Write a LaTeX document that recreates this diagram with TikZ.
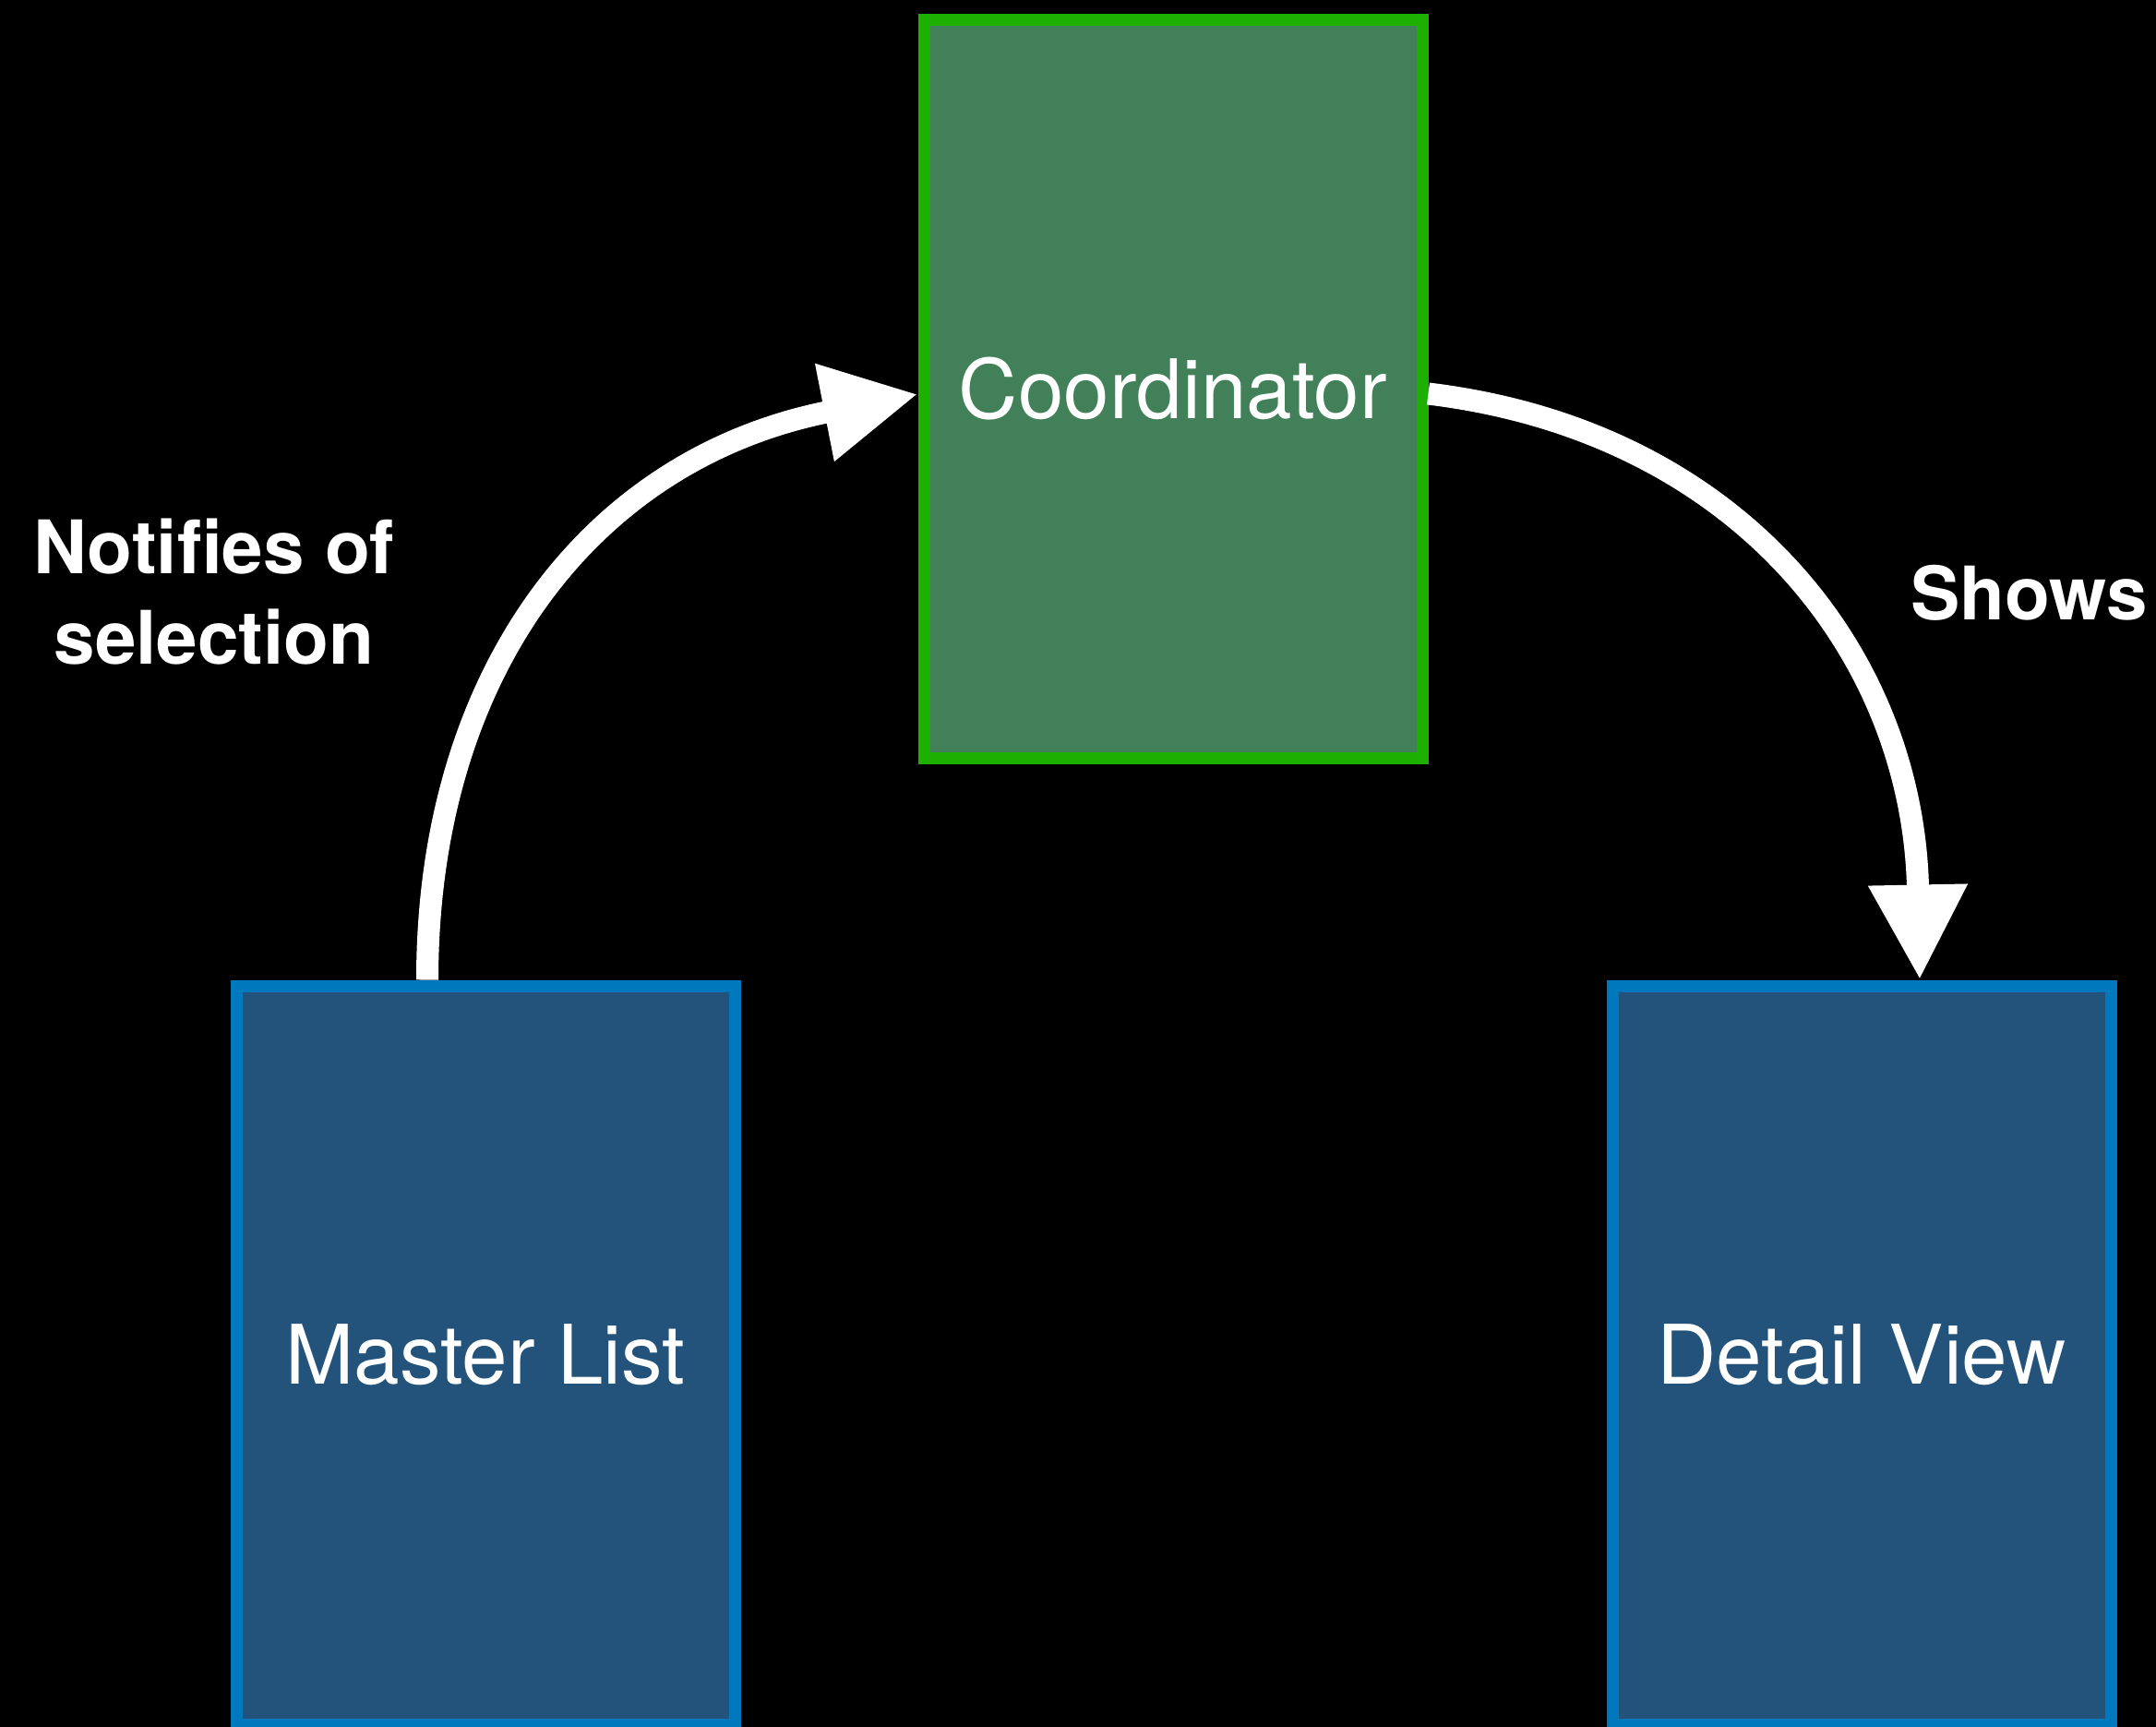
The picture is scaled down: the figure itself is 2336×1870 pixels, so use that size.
\documentclass[tikz,border=0pt]{standalone}
\usepackage{fontspec}
\setmainfont{TeX Gyre Heros}
\usetikzlibrary{arrows.meta,calc}
\definecolor{cofill}{RGB}{65,128,89}
\definecolor{coline}{RGB}{29,176,0}
\definecolor{bxfill}{RGB}{35,82,122}
\definecolor{bxline}{RGB}{0,120,190}
\tikzset{
  box/.style={draw, line width=6.5pt, minimum width=270pt, minimum height=400pt,
    inner sep=0pt, text=white, font=\fontsize{44.5}{53}\selectfont},
  greenbox/.style={box, fill=cofill, draw=coline},
  bluebox/.style={box, fill=bxfill, draw=bxline},
  conn/.style={draw=white, line width=12pt,
    -{Triangle[length=51.5pt, width=50.5pt]}},
  lbl/.style={text=white, align=center, inner sep=0pt,
    font=\bfseries\fontsize{40}{49}\selectfont}
}
\begin{document}
\begin{tikzpicture}[x=0.5pt, y=-0.5pt]
\useasboundingbox (0,0) rectangle (2336,1870);
\fill[black] (-20,-20) rectangle (2356,1890);
\node[greenbox] (co) at (1271,421.5) {Coordinator};
\node[bluebox] (ml) at (526,1468) {Master List};
\node[bluebox] (dv) at (2017,1468) {Detail View};
\draw[conn] ($(ml.north)+(-63,0)$) .. controls +(0,-330) and +(-356.5,70.2) .. ($(co.west)+(0,5.5)$);
\draw[conn] ($(co.east)+(0,5)$) .. controls +(337.6,40.8) and +(-6.9,-352) .. ($(dv.north)+(63,0)$);
\node[lbl] (l1) at (232,641) {Notifies of\\selection};
\node[lbl, anchor=base] (l2) at (2198.5,671.5) {Shows};
\end{tikzpicture}
\end{document}
